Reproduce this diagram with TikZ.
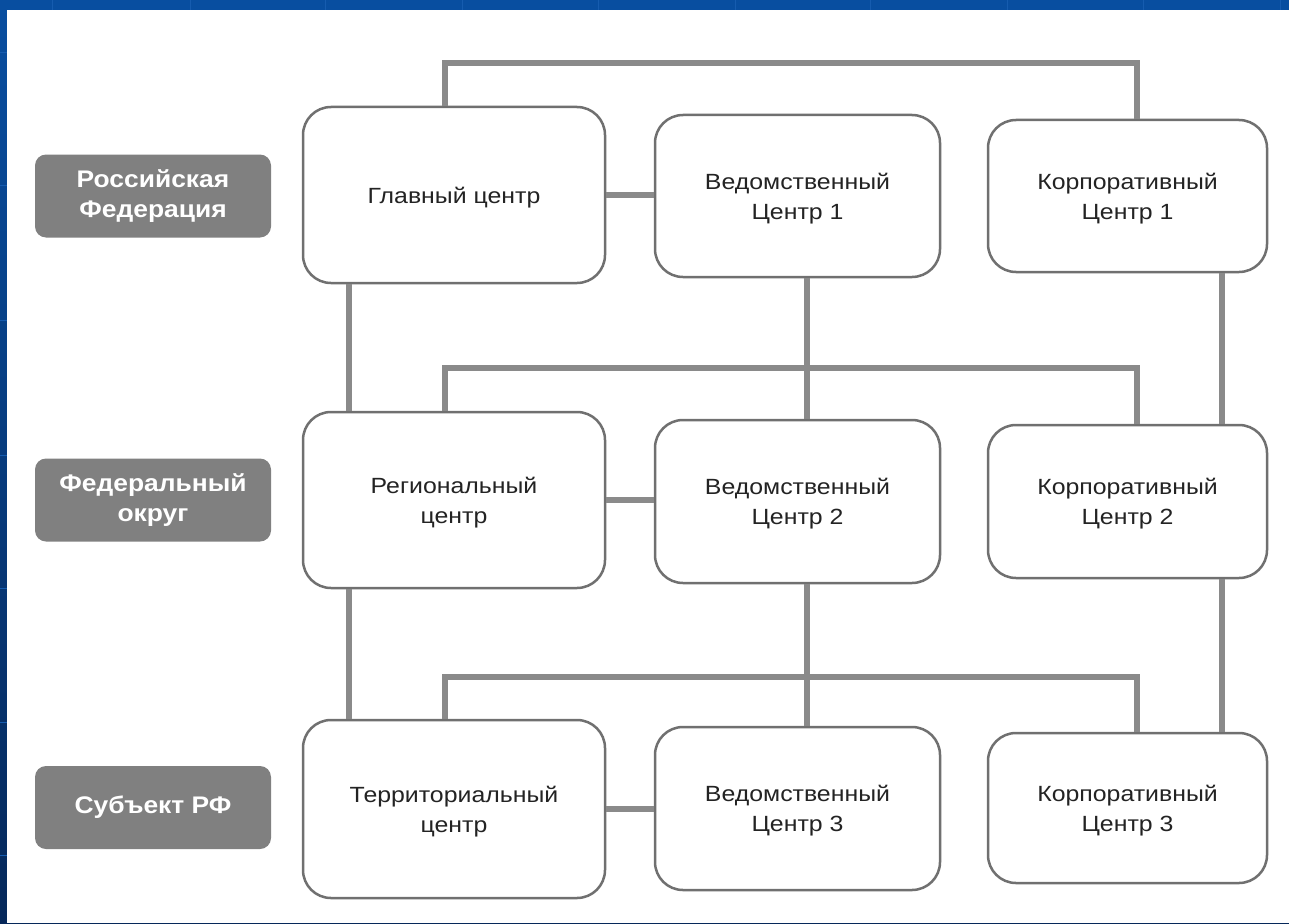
\documentclass[tikz,border=0pt]{standalone}
\usepackage{fontspec}
\setmainfont{Liberation Sans}
\newfontfamily\widesans[FakeStretch=1.13]{Liberation Sans}
\newfontfamily\widesansb[FakeStretch=1.1]{Liberation Sans Bold}
\usetikzlibrary{calc}
\definecolor{bluebg}{RGB}{8,78,160}
\definecolor{bluedark}{RGB}{6,40,90}
\definecolor{gridblue}{RGB}{22,92,175}
\definecolor{conncol}{RGB}{138,138,138}
\definecolor{boxline}{RGB}{112,112,112}
\definecolor{labfill}{RGB}{128,128,128}
\definecolor{txt}{RGB}{35,35,35}
\tikzset{
  box/.style={draw=boxline, line width=2.5pt, fill=white, rounded corners=28pt,
    align=center, text=txt, font=\widesans\fontsize{22}{30}\selectfont, inner sep=0pt,
    text depth=0pt},
  lab/.style={fill=labfill, rounded corners=11pt, align=center, text=white,
    font=\widesansb\fontsize{24}{30}\selectfont, minimum width=236pt, minimum height=83pt, inner sep=0pt},
  conn/.style={draw=conncol, line width=6pt}
}
\begin{document}
\begin{tikzpicture}[x=1pt,y=-1pt]
\useasboundingbox (0,0) rectangle (1289,923);
% background
\shade[top color=bluebg, bottom color=bluedark] (0,0) rectangle (1289,923);
\fill[bluebg] (0,0) rectangle (1289,10);
\foreach \gx in {52,190,325,462,598,735,870,1007,1143,1280} \draw[gridblue, line width=1pt] (\gx,0) -- (\gx,10);
\foreach \gy in {53,185,320,455,588,722,855} \draw[gridblue, line width=1pt] (0,\gy) -- (7,\gy);
\fill[white] (7,10) rectangle (1289,923);

% column coordinates
\coordinate (cA) at (349,0);
\coordinate (cB) at (445,0);
\coordinate (cC) at (807,0);
\coordinate (cD) at (1137,0);
\coordinate (cE) at (1222,0);
\coordinate (hTop) at (0,63);
\coordinate (hMid) at (0,368);
\coordinate (hLow) at (0,677);

% labels
\node[lab] (l1) at (153,196) {Российская\\Федерация};
\node[lab] (l2) at (153,500) {Федеральный\\округ};
\node[lab] (l3) at (153,807.5) {Субъект РФ};

% boxes
\node[box, minimum width=302pt, minimum height=176pt] (g) at (454,195) {Главный центр};
\node[box, minimum width=285pt, minimum height=162pt] (v1) at (797.5,196) {Ведомственный\\Центр 1};
\node[box, minimum width=279pt, minimum height=152pt] (k1) at (1127.5,196) {Корпоративный\\Центр 1};

\node[box, minimum width=302pt, minimum height=176pt] (r) at (454,500) {Региональный\\центр};
\node[box, minimum width=285pt, minimum height=163pt] (v2) at (797.5,501.5) {Ведомственный\\Центр 2};
\node[box, minimum width=279pt, minimum height=153pt] (k2) at (1127.5,501.5) {Корпоративный\\Центр 2};

\node[box, minimum width=302pt, minimum height=178pt] (t) at (454,809) {Территориальный\\центр};
\node[box, minimum width=285pt, minimum height=163pt] (v3) at (797.5,808.5) {Ведомственный\\Центр 3};
\node[box, minimum width=279pt, minimum height=150pt] (k3) at (1127.5,808) {Корпоративный\\Центр 3};

% connectors
\begin{scope}[line cap=butt]
\draw[conn] (g.north -| cB) -- (hTop -| cB) -- (hTop -| cD) -- (k1.north -| cD);
\draw[conn] (g.east) -- (g.east -| v1.west);
\draw[conn] (g.south -| cA) -- (r.north -| cA);
\draw[conn] (v1.south -| cC) -- (v2.north -| cC);
\draw[conn] (r.north -| cB) -- (hMid -| cB) -- (hMid -| cD) -- (k2.north -| cD);
\draw[conn] (k1.south -| cE) -- (k2.north -| cE);

\draw[conn] (r.east) -- (r.east -| v2.west);
\draw[conn] (r.south -| cA) -- (t.north -| cA);
\draw[conn] (v2.south -| cC) -- (v3.north -| cC);
\draw[conn] (t.north -| cB) -- (hLow -| cB) -- (hLow -| cD) -- (k3.north -| cD);
\draw[conn] (k2.south -| cE) -- (k3.north -| cE);
\draw[conn] (t.east |- v3.west) -- (v3.west);
\end{scope}
\end{tikzpicture}
\end{document}
